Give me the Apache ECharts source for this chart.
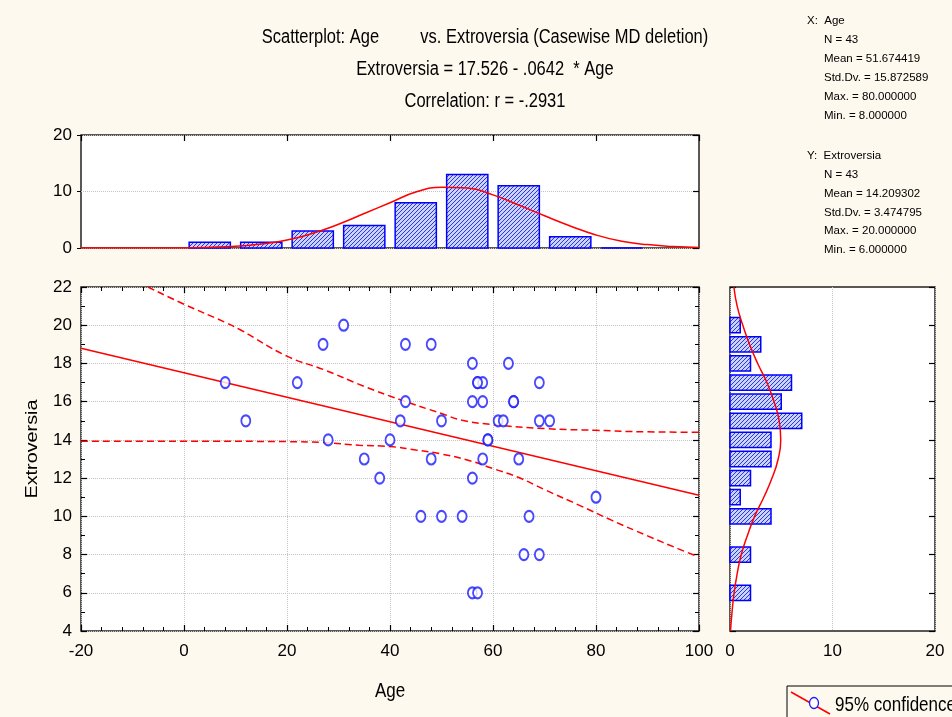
<!DOCTYPE html>
<html>
<head>
<meta charset="utf-8">
<title>Scatterplot: Age vs. Extroversia</title>
<script src="https://cdn.jsdelivr.net/npm/echarts@6/dist/echarts.min.js"></script>
<style>
  html, body { margin: 0; padding: 0; background: #fef9ee; }
  #chart { width: 952px; height: 717px; }
</style>
</head>
<body>
<div id="chart"></div>
<script>
// raw cases (43)
var age   = [8, 12, 22, 27, 31, 28, 40, 35, 42, 38, 43, 48, 56, 63, 57, 58, 69, 43, 56, 58, 64,
             50, 61, 62, 69, 71, 59, 48, 58, 65, 56, 80, 46, 50, 54, 67, 66, 69, 56, 57,
             57, 64, 59];
var extro = [17, 15, 17, 19, 20, 14, 14, 13, 15, 12, 19, 19, 18, 18, 17, 17, 17, 16, 16, 16, 16,
             15, 15, 15, 15, 15, 14, 13, 13, 13, 12, 11, 10, 10, 10, 10, 8, 8, 6, 6,
             17, 16, 14];

// histogram of Age (bin centres, counts)
var ageBins   = [5, 15, 25, 35, 45, 55, 65, 75, 85];
var ageCounts = [1, 1, 3, 4, 8, 13, 11, 2, 0];

// histogram of Extroversia
var extroBins   = [20, 19, 18, 17, 16, 15, 14, 13, 12, 11, 10, 8, 6];
var extroCounts = [1, 3, 2, 6, 5, 7, 4, 4, 2, 1, 4, 2, 2];

// fitted normal curves
var ageCurveX = [-20, -10, 0, 10, 15, 20, 25, 30, 35, 40, 45, 50, 55, 60, 65, 70, 75, 80, 85, 90, 95, 100];
var ageCurveY = [0, 0, 0.02, 0.3, 0.7, 1.4, 2.6, 4.2, 6.1, 8.0, 9.9, 10.75, 10.6, 9.4, 7.6, 5.7, 3.9, 2.3, 1.2, 0.6, 0.25, 0.1];
var extroCurveY = [4, 5, 6, 7, 8, 9, 10, 11, 12, 13, 14, 15, 16, 17, 18, 19, 20, 21, 22];
var extroCurveN = [0.05, 0.2, 0.4, 0.7, 1.1, 1.7, 2.4, 3.3, 4.1, 4.7, 4.95, 4.8, 4.3, 3.6, 2.7, 1.9, 1.25, 0.7, 0.38];

// regression line and 95% band
var fitX = [-20, 100];
var fitY = [18.8, 11.1];
var upperX = [-7, 0, 8, 11, 20, 27, 35, 42, 50, 54, 60, 70, 80, 90, 100];
var upperY = [22, 21.1, 20.15, 19.75, 18.38, 17.69, 16.8, 16.1, 15.38, 15.03, 14.8, 14.59, 14.5, 14.42, 14.4];
var lowerX = [-20, 0, 20, 27, 34, 40, 45, 50, 55, 60, 65, 70, 77, 83, 90, 96, 100];
var lowerY = [13.93, 13.93, 13.91, 13.86, 13.72, 13.65, 13.47, 13.26, 12.95, 12.5, 12.03, 11.4, 10.55, 9.8, 8.98, 8.3, 7.87];

var statsX = ['X:  Age', 'N = 43', 'Mean = 51.674419', 'Std.Dv. = 15.872589', 'Max. = 80.000000', 'Min. = 8.000000'];
var statsY = ['Y:  Extroversia', 'N = 43', 'Mean = 14.209302', 'Std.Dv. = 3.474795', 'Max. = 20.000000', 'Min. = 6.000000'];

var FONT = "'Liberation Sans',Arial,sans-serif";
var BLUE = '#1a1aff';
var RED = '#ff0000';

function zip(a, b) {
  return a.map(function (v, i) { return [v, b[i]]; });
}

// hatched fill for the histogram bars
function makeHatch() {
  var c = document.createElement('canvas');
  c.width = 4; c.height = 4;
  var g = c.getContext('2d');
  g.fillStyle = '#cdd3f8';
  g.fillRect(0, 0, 4, 4);
  g.strokeStyle = '#2238ea';
  g.lineWidth = 1;
  g.beginPath();
  g.moveTo(0, 4); g.lineTo(4, 0);
  g.moveTo(-1, 1); g.lineTo(1, -1);
  g.moveTo(3, 5); g.lineTo(5, 3);
  g.stroke();
  return { image: c, repeat: 'repeat' };
}
var hatch = makeHatch();

var chart = echarts.init(document.getElementById('chart'), null, { renderer: 'canvas' });

var gridStyle = { show: true, backgroundColor: '#ffffff', borderColor: '#222', borderWidth: 1.5 };
var dotted = { show: true, lineStyle: { color: '#c4c4c4', type: 'dotted', width: 1 } };
var tickIn = { show: true, inside: true, length: 6, lineStyle: { color: '#000', width: 1.2 } };
var minorIn = { show: true, length: 4, lineStyle: { color: '#000', width: 1 } };
var noLabel = { show: false };
var noLine = { show: false, onZero: false };
var tickLabel = { color: '#000', fontSize: 17, fontFamily: FONT };

// texts are stretched a little vertically, like the original export
function text(x, y, s, size, align, sy) {
  return {
    type: 'text', x: x, y: y, scaleY: sy || 1,
    style: { text: s, fontSize: size, fontFamily: FONT, fill: '#000', align: align || 'left', verticalAlign: 'middle' }
  };
}

var graphics = [
  text(485, 38, 'Scatterplot: Age         vs. Extroversia (Casewise MD deletion)', 16.5, 'center', 1.2),
  text(485, 70, 'Extroversia = 17.526 - .0642  * Age', 16.5, 'center', 1.2),
  text(485, 102, 'Correlation: r = -.2931', 16.5, 'center', 1.2),
  text(390, 691, 'Age', 17, 'center', 1.2),
  {
    type: 'text', x: 32, y: 449, rotation: Math.PI / 2, scaleX: 1.2,
    style: { text: 'Extroversia', fontSize: 16.5, fontFamily: FONT, fill: '#000', align: 'center', verticalAlign: 'middle' }
  }
];
// descriptive statistics at the top right
statsX.forEach(function (s, i) {
  graphics.push(text(i === 0 ? 807 : 824, 21 + i * 19, s, 11.5));
});
statsY.forEach(function (s, i) {
  graphics.push(text(i === 0 ? 807 : 824, 156 + i * 18.8, s, 11.5));
});
// legend box
graphics.push({ type: 'rect', shape: { x: 787, y: 686, width: 200, height: 50 }, style: { fill: 'none', stroke: '#000', lineWidth: 1 } });
graphics.push({ type: 'line', shape: { x1: 791, y1: 692, x2: 830, y2: 714 }, style: { stroke: RED, lineWidth: 1.5 } });
graphics.push({ type: 'ellipse', shape: { cx: 814, cy: 703, rx: 4.5, ry: 5.5 }, style: { fill: '#fff', stroke: BLUE, lineWidth: 1.3 } });
graphics.push(text(835, 705, '95% confidence', 17, 'left', 1.2));

var option = {
  backgroundColor: '#fef9ee',
  animation: false,
  grid: [
    Object.assign({ left: 81, top: 135, width: 618, height: 113 }, gridStyle),   // Age histogram
    Object.assign({ left: 81, top: 287, width: 618, height: 344 }, gridStyle),   // scatter
    Object.assign({ left: 730, top: 287, width: 205, height: 344 }, gridStyle)   // Extroversia histogram
  ],
  xAxis: [
    { gridIndex: 0, type: 'value', min: -20, max: 100, interval: 20, axisLine: noLine, axisTick: { show: false }, axisLabel: noLabel, splitLine: { show: false } },
    { gridIndex: 0, type: 'value', position: 'top', min: -20, max: 100, interval: 20, axisLine: noLine, axisTick: tickIn, axisLabel: noLabel, splitLine: { show: false } },
    { gridIndex: 1, type: 'value', min: -20, max: 100, interval: 20, axisLine: noLine, axisTick: tickIn, minorTick: Object.assign({ splitNumber: 5 }, minorIn),
      axisLabel: Object.assign({ margin: 12 }, tickLabel), splitLine: dotted },
    { gridIndex: 1, type: 'value', position: 'top', min: -20, max: 100, interval: 20, axisLine: noLine, axisTick: tickIn, minorTick: Object.assign({ splitNumber: 5 }, minorIn),
      axisLabel: noLabel, splitLine: { show: false } },
    { gridIndex: 2, type: 'value', min: 0, max: 20, interval: 10, axisLine: noLine, axisTick: { show: false },
      axisLabel: Object.assign({ margin: 12 }, tickLabel), splitLine: dotted },
    { gridIndex: 2, type: 'value', position: 'top', min: 0, max: 20, interval: 10, axisLine: noLine, axisTick: { show: false }, axisLabel: noLabel, splitLine: { show: false } }
  ],
  yAxis: [
    { gridIndex: 0, type: 'value', min: 0, max: 20, interval: 10, axisLine: noLine, axisTick: { show: true, length: 4, lineStyle: { color: '#000' } },
      axisLabel: Object.assign({ margin: 9 }, tickLabel), splitLine: dotted },
    { gridIndex: 0, type: 'value', position: 'right', min: 0, max: 20, interval: 10, axisLine: noLine, axisTick: tickIn, axisLabel: noLabel, splitLine: { show: false } },
    { gridIndex: 1, type: 'value', min: 4, max: 22, interval: 2, axisLine: noLine, axisTick: tickIn, minorTick: Object.assign({ splitNumber: 2 }, minorIn),
      axisLabel: Object.assign({ margin: 9 }, tickLabel), splitLine: dotted },
    { gridIndex: 1, type: 'value', position: 'right', min: 4, max: 22, interval: 2, axisLine: noLine, axisTick: tickIn, minorTick: Object.assign({ splitNumber: 2 }, minorIn),
      axisLabel: noLabel, splitLine: { show: false } },
    { gridIndex: 2, type: 'value', min: 4, max: 22, interval: 2, axisLine: noLine, axisTick: tickIn, axisLabel: noLabel, splitLine: { show: false } },
    { gridIndex: 2, type: 'value', position: 'right', min: 4, max: 22, interval: 2, axisLine: noLine, axisTick: tickIn, axisLabel: noLabel, splitLine: { show: false } }
  ],
  graphic: graphics,
  series: [
    // Age histogram
    {
      type: 'custom', xAxisIndex: 0, yAxisIndex: 0,
      data: zip(ageBins, ageCounts),
      encode: { x: 0, y: 1 },
      renderItem: function (params, api) {
        var c = api.value(0), n = api.value(1);
        var p0 = api.coord([c - 4, n]);
        var p1 = api.coord([c + 4, 0]);
        return {
          type: 'rect',
          shape: { x: p0[0], y: p0[1], width: p1[0] - p0[0], height: p1[1] - p0[1] },
          style: { fill: hatch, stroke: '#0000ff', lineWidth: 1.5 }
        };
      }
    },
    {
      type: 'line', xAxisIndex: 0, yAxisIndex: 0, smooth: true, showSymbol: false,
      data: zip(ageCurveX, ageCurveY),
      lineStyle: { color: RED, width: 1.5 }, z: 3
    },
    // scatter + fit
    {
      type: 'line', xAxisIndex: 2, yAxisIndex: 2, showSymbol: false,
      data: zip(fitX, fitY),
      lineStyle: { color: RED, width: 1.5 }
    },
    {
      type: 'line', xAxisIndex: 2, yAxisIndex: 2, showSymbol: false, smooth: true,
      data: zip(upperX, upperY),
      lineStyle: { color: RED, width: 1.5, type: [7, 4] }
    },
    {
      type: 'line', xAxisIndex: 2, yAxisIndex: 2, showSymbol: false, smooth: true,
      data: zip(lowerX, lowerY),
      lineStyle: { color: RED, width: 1.5, type: [7, 4] }
    },
    {
      type: 'scatter', xAxisIndex: 2, yAxisIndex: 2,
      symbol: 'emptyCircle', symbolSize: [9, 11],
      data: zip(age, extro),
      itemStyle: { color: BLUE, borderWidth: 1.3 }, z: 4
    },
    // Extroversia histogram
    {
      type: 'custom', xAxisIndex: 4, yAxisIndex: 4,
      data: zip(extroCounts, extroBins),
      encode: { x: 0, y: 1 },
      renderItem: function (params, api) {
        var n = api.value(0), v = api.value(1);
        var p0 = api.coord([0, v + 0.4]);
        var p1 = api.coord([n, v - 0.4]);
        return {
          type: 'rect',
          shape: { x: p0[0], y: p0[1], width: p1[0] - p0[0], height: p1[1] - p0[1] },
          style: { fill: hatch, stroke: '#0000ff', lineWidth: 1.5 }
        };
      }
    },
    {
      type: 'line', xAxisIndex: 4, yAxisIndex: 4, smooth: true, showSymbol: false,
      data: zip(extroCurveN, extroCurveY),
      lineStyle: { color: RED, width: 1.5 }, z: 3
    }
  ]
};

chart.setOption(option);
</script>
</body>
</html>
